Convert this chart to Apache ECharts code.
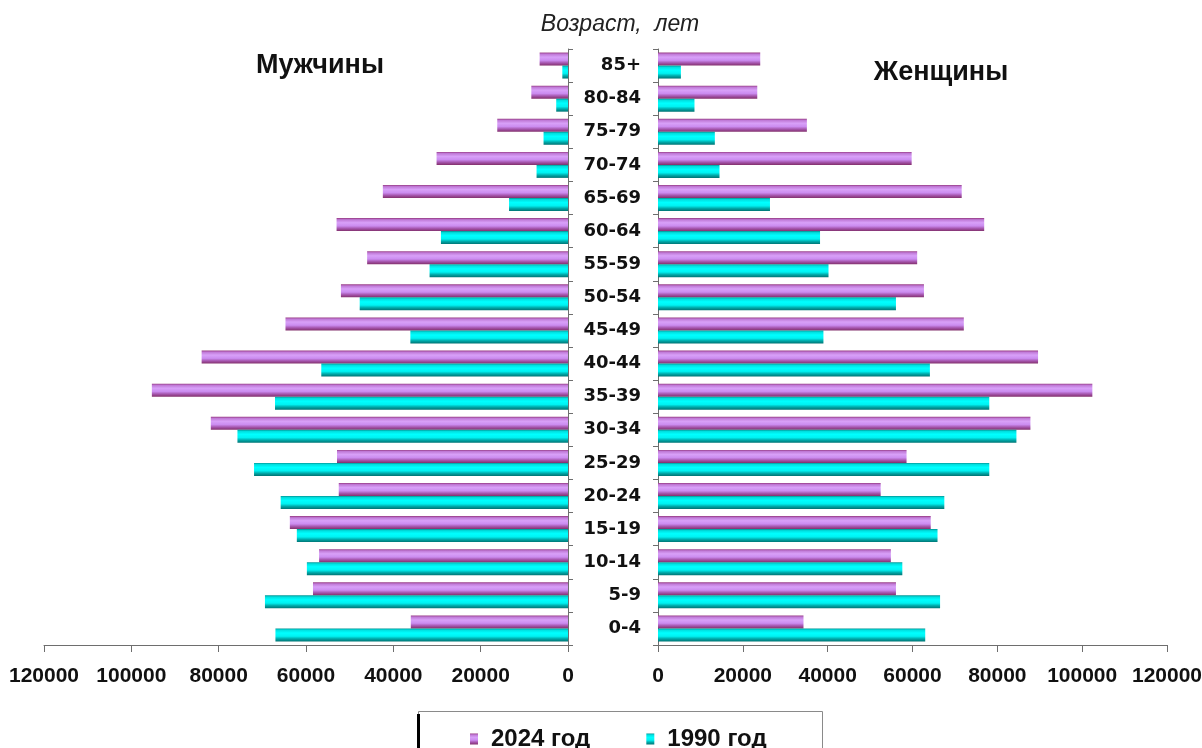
<!DOCTYPE html>
<html>
<head>
<meta charset="utf-8">
<script src="https://cdn.jsdelivr.net/npm/echarts@6/dist/echarts.min.js"></script>
<style>
  html, body { margin: 0; padding: 0; background: #fff; }
  #chart { width: 1202px; height: 748px; }
</style>
</head>
<body>
<div id="chart"></div>
<script>
// Age groups, from youngest (bottom) to oldest (top)
const ageGroups = ['0-4', '5-9', '10-14', '15-19', '20-24', '25-29', '30-34', '35-39',
  '40-44', '45-49', '50-54', '55-59', '60-64', '65-69', '70-74', '75-79', '80-84', '85+'];

// Men, persons
const men2024 = [36000, 58400, 57000, 63700, 52500, 52900, 81800, 95300, 83900,
  64700, 52000, 46000, 53000, 42400, 30100, 16200, 8400, 6500];
const men1990 = [67000, 69400, 59800, 62100, 65800, 71900, 75700, 67100, 56500,
  36100, 47700, 31700, 29100, 13500, 7200, 5600, 2700, 1300];

// Women, persons
const women2024 = [34300, 56100, 54900, 64300, 52500, 58600, 87800, 102400, 89600,
  72100, 62700, 61100, 76900, 71600, 59800, 35100, 23400, 24100];
const women1990 = [63000, 66500, 57600, 65900, 67500, 78100, 84500, 78100, 64100,
  39000, 56100, 40200, 38200, 26400, 14500, 13400, 8600, 5400];

const yearLabels = ['2024 год', '1990 год'];
const axisMax = 120000;
const axisStep = 20000;

// Shaded "tube" fills for the two years
const purpleFill = new echarts.graphic.LinearGradient(0, 0, 0, 1, [
  { offset: 0, color: '#963a82' },
  { offset: 0.12, color: '#bf78d6' },
  { offset: 0.35, color: '#d8a0f8' },
  { offset: 0.6, color: '#cb8cf0' },
  { offset: 0.8, color: '#a555ad' },
  { offset: 1, color: '#82306c' }
]);
const cyanFill = new echarts.graphic.LinearGradient(0, 0, 0, 1, [
  { offset: 0, color: '#009494' },
  { offset: 0.12, color: '#00dede' },
  { offset: 0.35, color: '#00ffff' },
  { offset: 0.6, color: '#00f2f2' },
  { offset: 0.8, color: '#00a8a8' },
  { offset: 1, color: '#007474' }
]);

const tickFont = {
  fontFamily: '"Liberation Sans Narrow", "Liberation Sans", Arial, sans-serif',
  fontWeight: 'bold',
  fontSize: 21,
  lineHeight: 21,
  color: '#111'
};
const axisGray = '#6e6e6e';

function valueAxis(gridIndex, inverse) {
  return {
    type: 'value',
    gridIndex: gridIndex,
    inverse: inverse,
    min: 0,
    max: axisMax,
    interval: axisStep,
    splitLine: { show: false },
    axisLine: { show: true, lineStyle: { color: axisGray, width: 1 } },
    axisTick: { show: true, length: 7, lineStyle: { color: axisGray } },
    axisLabel: Object.assign({
      margin: 21,
      formatter: function (v) { return String(v); }
    }, tickFont)
  };
}

function barSeries(name, data, axisIdx, fill) {
  return {
    name: name,
    type: 'bar',
    xAxisIndex: axisIdx,
    yAxisIndex: axisIdx,
    data: data,
    barWidth: 13,
    barGap: '0%',
    itemStyle: { color: fill },
    emphasis: { disabled: true },
    animation: false
  };
}

const chart = echarts.init(document.getElementById('chart'), null, { renderer: 'canvas' });

chart.setOption({
  backgroundColor: '#ffffff',
  animation: false,
  grid: [
    { left: 44, right: 634, top: 49, bottom: 103, outerBoundsMode: 'none' },
    { left: 658, right: 35, top: 49, bottom: 103, outerBoundsMode: 'none' }
  ],
  xAxis: [valueAxis(0, true), valueAxis(1, false)],
  yAxis: [
    {
      type: 'category',
      gridIndex: 0,
      position: 'right',
      data: ageGroups,
      axisLine: { show: true, lineStyle: { color: axisGray } },
      axisTick: { show: true, length: 5, lineStyle: { color: axisGray } },
      axisLabel: { show: false }
    },
    {
      type: 'category',
      gridIndex: 1,
      position: 'left',
      data: ageGroups,
      axisLine: { show: true, lineStyle: { color: axisGray } },
      axisTick: { show: true, length: 5, lineStyle: { color: axisGray } },
      axisLabel: {
        margin: 17,
        align: 'right',
        fontFamily: '"DejaVu Sans", Verdana, sans-serif',
        fontWeight: 'bold',
        fontSize: 18,
        color: '#111'
      }
    }
  ],
  legend: {
    data: yearLabels,
    left: 470,
    top: 727,
    padding: 0,
    itemWidth: 8,
    itemHeight: 11,
    itemGap: 56,
    icon: 'rect',
    textStyle: {
      fontFamily: '"Liberation Sans", Arial, sans-serif',
      fontWeight: 'bold',
      fontSize: 24,
      color: '#111',
      padding: [0, 0, 0, 8]
    }
  },
  graphic: [
    {
      type: 'text',
      style: {
        text: 'Возраст,  лет',
        x: 620,
        y: 25,
        align: 'center',
        verticalAlign: 'middle',
        fontFamily: '"Liberation Sans", Arial, sans-serif',
        fontStyle: 'italic',
        fontSize: 23,
        fill: '#222'
      }
    },
    {
      type: 'text',
      style: {
        text: 'Мужчины',
        x: 320,
        y: 66,
        align: 'center',
        verticalAlign: 'middle',
        fontFamily: '"Liberation Sans", Arial, sans-serif',
        fontWeight: 'bold',
        fontSize: 27,
        fill: '#111'
      }
    },
    {
      type: 'text',
      style: {
        text: 'Женщины',
        x: 941,
        y: 73,
        align: 'center',
        verticalAlign: 'middle',
        fontFamily: '"Liberation Sans", Arial, sans-serif',
        fontWeight: 'bold',
        fontSize: 27,
        fill: '#111'
      }
    },
    {
      type: 'rect',
      shape: { x: 418.5, y: 711.5, width: 404, height: 60 },
      style: { fill: 'none', stroke: '#8a8a8a', lineWidth: 1 },
      z: -1
    },
    {
      type: 'line',
      shape: { x1: 418.5, y1: 714, x2: 418.5, y2: 748 },
      style: { stroke: '#000', lineWidth: 3 }
    }
  ],
  series: [
    barSeries(yearLabels[0], men2024, 0, purpleFill),
    barSeries(yearLabels[1], men1990, 0, cyanFill),
    barSeries(yearLabels[0], women2024, 1, purpleFill),
    barSeries(yearLabels[1], women1990, 1, cyanFill)
  ]
});
</script>
</body>
</html>
